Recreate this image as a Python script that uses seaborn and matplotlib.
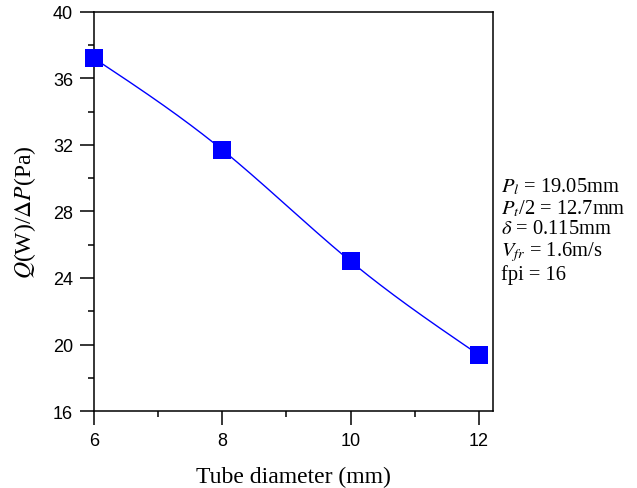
import numpy as np
import pandas as pd
import matplotlib
matplotlib.use("Agg")
import matplotlib.pyplot as plt
import seaborn as sns
from matplotlib.ticker import MultipleLocator

# data
tube_diameter = [6, 8, 10, 12]
q_over_dp = [37.2, 31.7, 25.0, 19.38]


def natural_spline(x, y, xs):
    # natural cubic spline through the points, for the smoothed line
    x = np.asarray(x, float)
    y = np.asarray(y, float)
    n = len(x)
    h = np.diff(x)
    A = np.zeros((n, n))
    b = np.zeros(n)
    A[0, 0] = A[-1, -1] = 1
    for i in range(1, n - 1):
        A[i, i - 1] = h[i - 1]
        A[i, i] = 2 * (h[i - 1] + h[i])
        A[i, i + 1] = h[i]
        b[i] = 6 * ((y[i + 1] - y[i]) / h[i] - (y[i] - y[i - 1]) / h[i - 1])
    m = np.linalg.solve(A, b)
    idx = np.clip(np.searchsorted(x, xs) - 1, 0, n - 2)
    t0, t1 = xs - x[idx], x[idx + 1] - xs
    hi = h[idx]
    return (m[idx] * t1 ** 3 + m[idx + 1] * t0 ** 3) / (6 * hi) \
        + (y[idx] / hi - m[idx] * hi / 6) * t1 + (y[idx + 1] / hi - m[idx + 1] * hi / 6) * t0


sns.set_style("ticks")
plt.rcParams["font.family"] = ["Liberation Sans", "DejaVu Sans"]
plt.rcParams["mathtext.fontset"] = "stix"
plt.rcParams["text.color"] = "black"
plt.rcParams["axes.labelcolor"] = "black"
plt.rcParams["xtick.color"] = "black"
plt.rcParams["ytick.color"] = "black"

fig = plt.figure(figsize=(6.37, 4.89), dpi=100)
ax = fig.add_axes([0.1476, 0.1572, 0.774 - 0.1476, 0.974 - 0.1572])

xs = np.linspace(tube_diameter[0], tube_diameter[-1], 200)
curve = pd.DataFrame({"x": xs, "y": natural_spline(tube_diameter, q_over_dp, xs)})
sns.lineplot(data=curve, x="x", y="y", ax=ax, color="#0000ff", lw=1.0)

pts = pd.DataFrame({"x": tube_diameter, "y": q_over_dp})
sns.scatterplot(data=pts, x="x", y="y", ax=ax, marker="s", s=155,
                color="#0000ff", edgecolor="#0000ff", linewidth=0, zorder=5, clip_on=False)

ax.set_xlim(6, 12.22)
ax.set_ylim(16, 40)
ax.xaxis.set_major_locator(MultipleLocator(2))
ax.xaxis.set_minor_locator(MultipleLocator(1))
ax.yaxis.set_major_locator(MultipleLocator(4))
ax.yaxis.set_minor_locator(MultipleLocator(2))
ax.tick_params(which="major", direction="out", length=10, width=1.1, labelsize=13, pad=5)
ax.tick_params(which="minor", direction="out", length=4.5, width=1.1)
for sp in ax.spines.values():
    sp.set_linewidth(1.1)
    sp.set_color("black")

ax.set_xlabel("Tube diameter (mm)", family="Liberation Serif", fontsize=17, labelpad=12)
ax.set_ylabel(r"$Q$(W)/$\Delta P$(Pa)", family="Liberation Serif", fontsize=17, labelpad=11)

info = "\n".join([
    r"$P_l$ = 19.05mm",
    r"$P_t$/2 = 12.7mm",
    r"$\delta$ = 0.115mm",
    r"$V_{fr}$ = 1.6m/s",
    "fpi = 16",
])
fig.text(0.786, 0.528, info, family="Liberation Serif", fontsize=14.8,
         va="center", ha="left", linespacing=1.07)

fig.savefig("out.png", dpi=100)
